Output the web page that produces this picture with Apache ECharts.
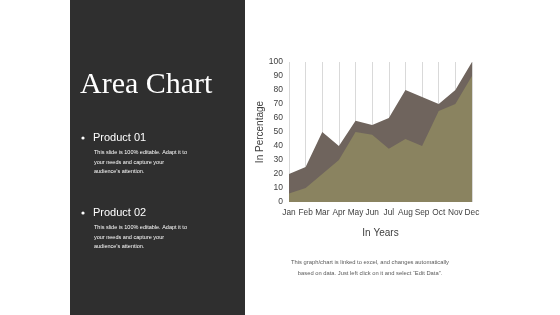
<!DOCTYPE html>
<html><head><meta charset="utf-8">
<script src="https://cdn.jsdelivr.net/npm/echarts@6/dist/echarts.min.js"></script>
<style>html,body{margin:0;padding:0;background:#fff}#c{width:560px;height:315px}</style>
</head><body><div id="c"></div>
<script>
const categories = ['Jan','Feb','Mar','Apr','May','Jun','Jul','Aug','Sep','Oct','Nov','Dec'];
const product01 = [20, 25, 50, 40, 58, 55, 60, 80, 75, 70, 80, 100];
const product02 = [6, 10, 20, 30, 50, 48, 38, 45, 40, 65, 70, 90];
const yTicks = [0,10,20,30,40,50,60,70,80,90,100];

const chart = echarts.init(document.getElementById('c'), null, {renderer:'canvas'});
const body = 'This slide is 100% editable. Adapt it to\nyour needs and capture your\naudience\u2019s attention.';
chart.setOption({
  animation: false,
  grid: {left: 289, right: 88, top: 62, bottom: 113},
  xAxis: {
    type: 'category', data: categories, boundaryGap: false,
    axisLine: {show: false}, axisTick: {show: false},
    axisLabel: {color: '#404040', fontSize: 8.3, fontFamily: 'Liberation Sans, Arial', margin: 7, interval: 0},
    splitLine: {show: true, interval: 0, lineStyle: {color: '#d9d9d9', width: 1}},
    name: 'In Years', nameLocation: 'middle', nameGap: 26,
    nameTextStyle: {color: '#404040', fontSize: 10, fontFamily: 'Liberation Sans, Arial'}
  },
  yAxis: {
    type: 'value', min: 0, max: 100, interval: 10,
    axisLine: {show: false}, axisTick: {show: false}, splitLine: {show: false},
    axisLabel: {color: '#404040', fontSize: 8.5, fontFamily: 'Liberation Sans, Arial', margin: 6,
      formatter: v => yTicks.includes(v) ? String(v) : ''},
    name: 'In Percentage', nameLocation: 'middle', nameGap: 21, nameRotate: 90,
    nameTextStyle: {color: '#404040', fontSize: 10, fontFamily: 'Liberation Sans, Arial'}
  },
  series: [
    {name: 'Product 01', type: 'line', data: product01, symbol: 'none',
     lineStyle: {width: 0}, areaStyle: {color: '#6f645d', opacity: 1}},
    {name: 'Product 02', type: 'line', data: product02, symbol: 'none',
     lineStyle: {width: 0}, areaStyle: {color: '#8a8360', opacity: 1}}
  ],
  graphic: [
    {type: 'rect', left: 70, top: 0, z: -10, shape: {width: 175, height: 315}, style: {fill: '#2f2f2f'}},
    {type: 'text', left: 80, top: 70, style: {text: 'Area Chart', fill: '#ffffff', font: '30px "Liberation Serif", serif'}},
    {type: 'circle', shape: {cx: 83, cy: 138, r: 1.6}, style: {fill: '#ffffff'}},
    {type: 'text', left: 93, top: 132, style: {text: 'Product 01', fill: '#ffffff', font: '11px "Liberation Sans", Arial'}},
    {type: 'text', left: 94, top: 148, style: {text: body, fill: '#ffffff', font: '5.5px "Liberation Sans", Arial', lineHeight: 9.5}},
    {type: 'circle', shape: {cx: 83, cy: 213, r: 1.6}, style: {fill: '#ffffff'}},
    {type: 'text', left: 93, top: 207, style: {text: 'Product 02', fill: '#ffffff', font: '11px "Liberation Sans", Arial'}},
    {type: 'text', left: 94, top: 223, style: {text: body, fill: '#ffffff', font: '5.5px "Liberation Sans", Arial', lineHeight: 9.5}},
    {type: 'text', x: 370, y: 257, style: {text: 'This graph/chart is linked to excel, and changes automatically\nbased on data. Just left click on it and select \u201cEdit Data\u201d.',
      fill: '#595959', font: '5.8px "Liberation Sans", Arial', lineHeight: 11, align: 'center'}}
  ]
});
</script></body></html>
